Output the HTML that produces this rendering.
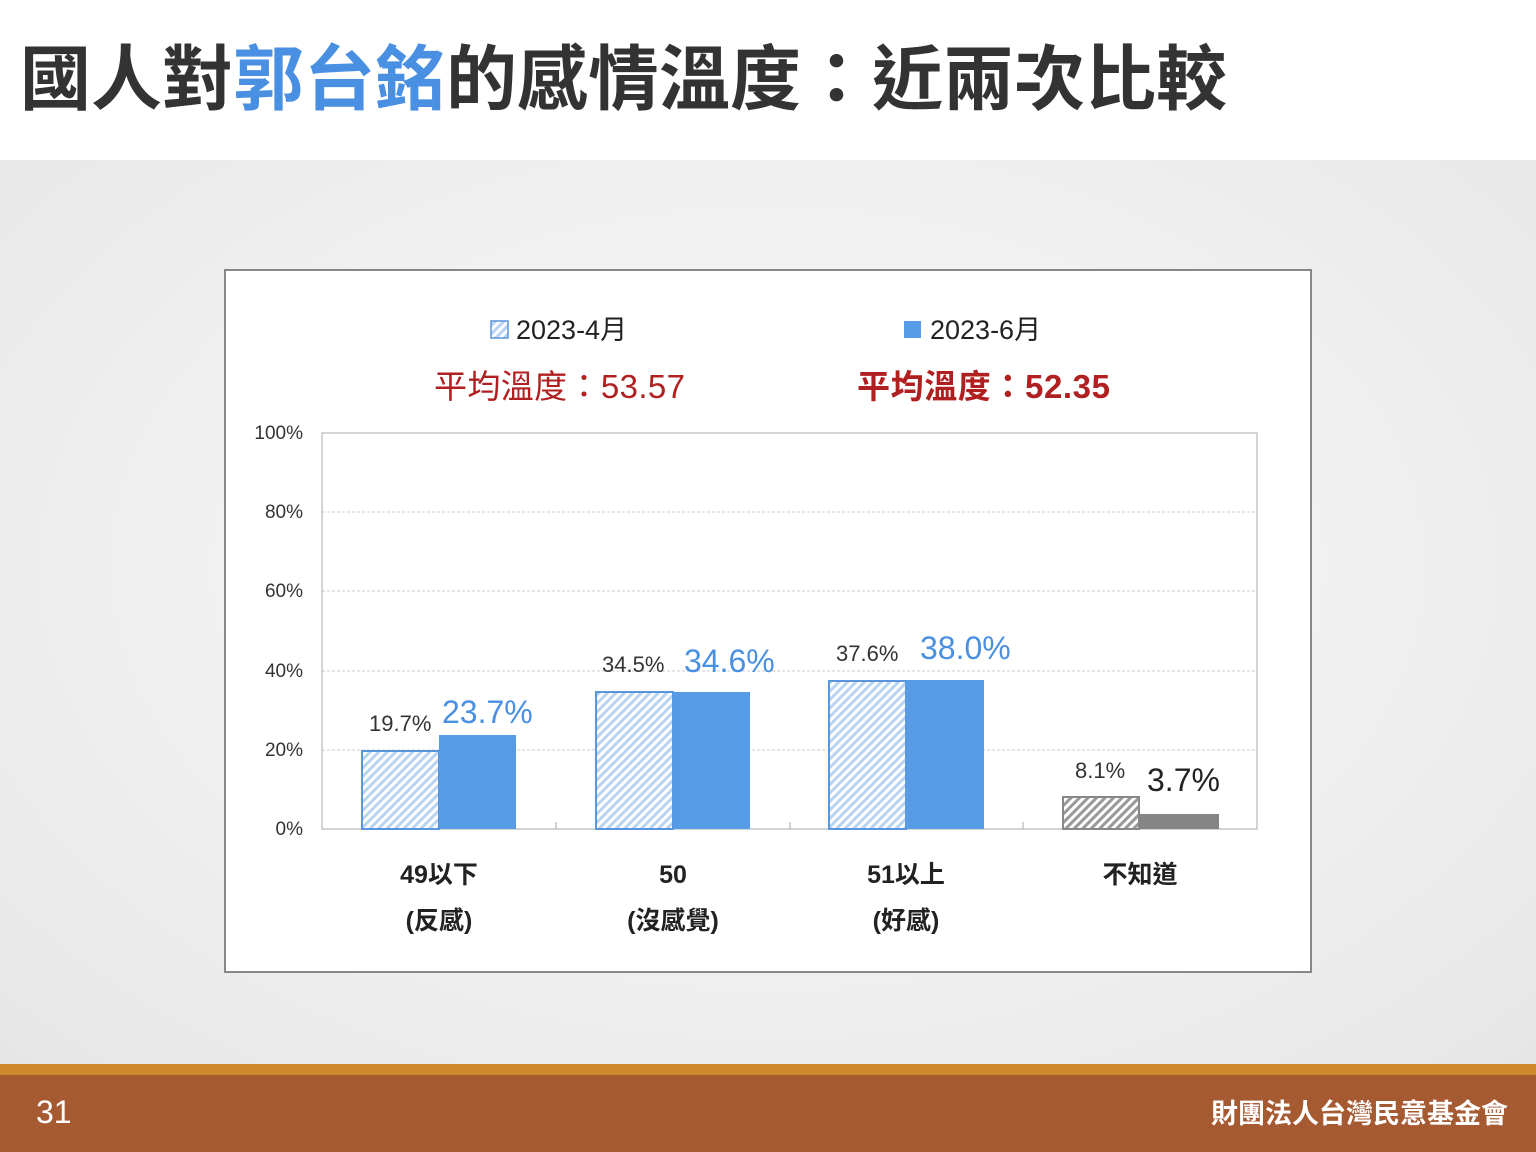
<!DOCTYPE html>
<html><head><meta charset="utf-8"><style>
html,body{margin:0;padding:0;}
body{width:1536px;height:1152px;position:relative;overflow:hidden;font-family:"Liberation Sans","Noto Sans CJK TC",sans-serif;background:#fff;}
.bg{position:absolute;left:0;top:160px;width:1536px;height:904px;background:radial-gradient(ellipse at 50% 45%,#fafafa 0%,#f0f0f0 55%,#e6e6e6 100%);}
.title{position:absolute;left:20px;top:38px;font-size:71px;font-weight:bold;color:#333;line-height:86px;white-space:nowrap;}
.gold{position:absolute;left:0;top:1064px;width:1536px;height:11px;background:#d0882c;}
.brown{position:absolute;left:0;top:1075px;width:1536px;height:77px;background:#a65a32;}
.pn{position:absolute;left:36px;top:1094px;color:#fff;font-size:32px;}
.org{position:absolute;right:28px;top:1092px;color:#fff;font-size:27px;font-weight:bold;}
svg{position:absolute;left:0;top:0;}
</style></head><body>
<div class="bg"></div>
<div class="title">國人對<span style="color:#4a90e2">郭台銘</span>的感情溫度：近兩次比較</div>
<svg width="1536" height="1152" font-family="Liberation Sans, Noto Sans CJK TC, sans-serif">
<defs>
<pattern id="hb" width="6" height="6" patternUnits="userSpaceOnUse" patternTransform="rotate(45)"><rect width="6" height="6" fill="#fff"/><rect width="3" height="6" fill="#b8d4f2"/></pattern>
<pattern id="hg" width="6" height="6" patternUnits="userSpaceOnUse" patternTransform="rotate(45)"><rect width="6" height="6" fill="#fff"/><rect width="3" height="6" fill="#999"/></pattern>
</defs>
<rect x="225" y="270" width="1086" height="702" fill="#fff" stroke="#888" stroke-width="2"/>
<g stroke="#ccc" stroke-dasharray="3,2" stroke-width="1">
<line x1="322" y1="512" x2="1257" y2="512"/><line x1="322" y1="591" x2="1257" y2="591"/><line x1="322" y1="671" x2="1257" y2="671"/><line x1="322" y1="750" x2="1257" y2="750"/>
</g>
<rect x="322" y="433" width="935" height="396" fill="none" stroke="#aaa"/>
<g font-size="19" fill="#333" text-anchor="end">
<text x="303" y="439">100%</text><text x="303" y="518">80%</text><text x="303" y="597">60%</text><text x="303" y="677">40%</text><text x="303" y="756">20%</text><text x="303" y="835">0%</text>
</g>
<g stroke="#aaa"><line x1="556" y1="822" x2="556" y2="829"/><line x1="790" y1="822" x2="790" y2="829"/><line x1="1023" y1="822" x2="1023" y2="829"/></g>
<g stroke="#5a96dc" stroke-width="2">
<rect x="362" y="751" width="77" height="78" fill="url(#hb)"/>
<rect x="596" y="692" width="77" height="137" fill="url(#hb)"/>
<rect x="829" y="681" width="77" height="148" fill="url(#hb)"/>
</g>
<rect x="439" y="735" width="77" height="94" fill="#559be6"/>
<rect x="673" y="692" width="77" height="137" fill="#559be6"/>
<rect x="906" y="680" width="78" height="149" fill="#559be6"/>
<rect x="1063" y="797" width="76" height="32" fill="url(#hg)" stroke="#888" stroke-width="2"/>
<rect x="1139" y="814" width="80" height="15" fill="#858585"/>
<g font-size="22" fill="#333"><text x="369" y="731">19.7%</text><text x="602" y="672">34.5%</text><text x="836" y="661">37.6%</text><text x="1075" y="778">8.1%</text></g>
<g font-size="32" fill="#4a90e2"><text x="442" y="723">23.7%</text><text x="684" y="672">34.6%</text><text x="920" y="659">38.0%</text></g>
<text x="1147" y="791" font-size="32" fill="#222">3.7%</text>
<g font-size="25" fill="#222" text-anchor="middle" font-weight="bold">
<text x="439" y="883">49以下</text><text x="439" y="929">(反感)</text>
<text x="673" y="883">50</text><text x="673" y="929">(沒感覺)</text>
<text x="906" y="883">51以上</text><text x="906" y="929">(好感)</text>
<text x="1140" y="883">不知道</text>
</g>
<rect x="491" y="321" width="17" height="17" fill="url(#hb)" stroke="#5a96dc" stroke-width="1.5"/>
<text x="516" y="339" font-size="27" fill="#222">2023-4月</text>
<rect x="904" y="321" width="17" height="17" fill="#559be6"/>
<text x="930" y="339" font-size="27" fill="#222">2023-6月</text>
<text x="434" y="398" font-size="33" fill="#b02020" textLength="251">平均溫度：53.57</text>
<text x="857" y="398" font-size="33" fill="#b02020" font-weight="bold" textLength="253">平均溫度：52.35</text>
</svg>
<div class="gold"></div><div class="brown"></div>
<div class="pn">31</div>
<div class="org">財團法人台灣民意基金會</div>
</body></html>
